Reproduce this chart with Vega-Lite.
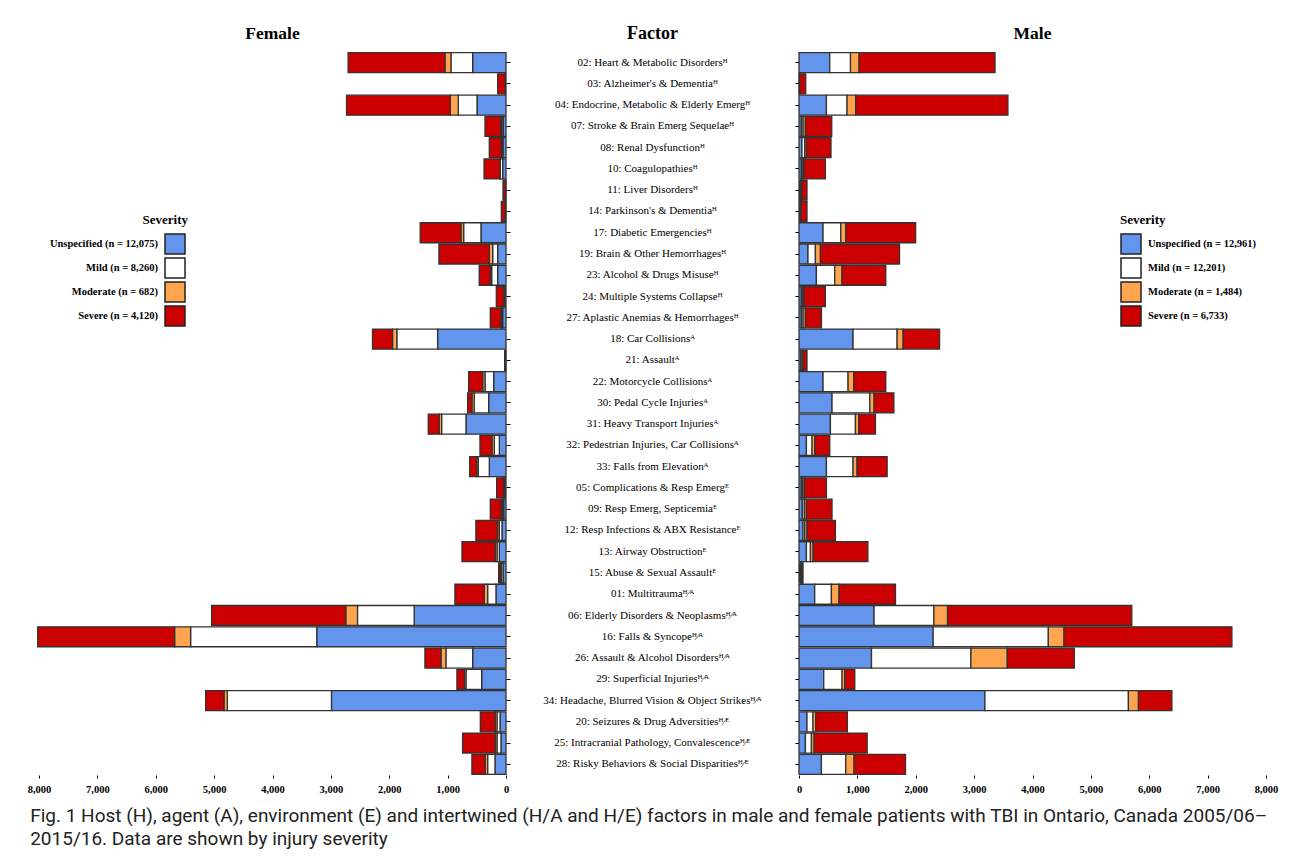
{
"$schema": "https://vega.github.io/schema/vega-lite/v6.json",
"padding": {"left": 27, "top": 25, "right": 5, "bottom": 5},
"background": "white",
"spacing": 0,
"config": {
  "font": "Liberation Serif",
  "view": {"stroke": null},
  "axis": {"labelFont": "Liberation Serif", "labelFontWeight": "bold", "labelFontSize": 10.5, "labelColor": "black", "tickColor": "black", "domain": false, "grid": false, "tickSize": 4},
  "title": {"font": "Liberation Serif", "fontWeight": "bold", "fontSize": 17.5, "color": "black"},
  "legend": {"titleFont": "Liberation Serif", "titleFontWeight": "bold", "titleFontSize": 13, "titleColor": "black", "titlePadding": 6, "labelFont": "Liberation Serif", "labelFontWeight": "bold", "labelFontSize": 10.5, "labelColor": "black", "symbolType": "square", "symbolSize": 400, "symbolStrokeColor": "#222222", "symbolStrokeWidth": 1.5, "symbolOpacity": 1, "rowPadding": -4}
},
"title": {"text": ["Fig. 1  Host (H), agent (A), environment (E) and intertwined (H/A and H/E) factors in male and female patients with TBI in Ontario, Canada 2005/06–", "2015/16. Data are shown by injury severity"], "orient": "bottom", "anchor": "start", "font": "Roboto", "fontWeight": "normal", "fontSize": 19, "lineHeight": 23, "offset": 12, "dx": 3, "color": "#222222"},
"datasets": {
"factors": [
{"code":"02","label":"02: Heart & Metabolic Disordersᴴ"},
{"code":"03","label":"03: Alzheimer's & Dementiaᴴ"},
{"code":"04","label":"04: Endocrine, Metabolic & Elderly Emergᴴ"},
{"code":"07","label":"07: Stroke & Brain Emerg Sequelaeᴴ"},
{"code":"08","label":"08: Renal Dysfunctionᴴ"},
{"code":"10","label":"10: Coagulopathiesᴴ"},
{"code":"11","label":"11: Liver Disordersᴴ"},
{"code":"14","label":"14: Parkinson's & Dementiaᴴ"},
{"code":"17","label":"17: Diabetic Emergenciesᴴ"},
{"code":"19","label":"19: Brain & Other Hemorrhagesᴴ"},
{"code":"23","label":"23: Alcohol & Drugs Misuseᴴ"},
{"code":"24","label":"24: Multiple Systems Collapseᴴ"},
{"code":"27","label":"27: Aplastic Anemias & Hemorrhagesᴴ"},
{"code":"18","label":"18: Car Collisionsᴬ"},
{"code":"21","label":"21: Assaultᴬ"},
{"code":"22","label":"22: Motorcycle Collisionsᴬ"},
{"code":"30","label":"30: Pedal Cycle Injuriesᴬ"},
{"code":"31","label":"31: Heavy Transport Injuriesᴬ"},
{"code":"32","label":"32: Pedestrian Injuries, Car Collisionsᴬ"},
{"code":"33","label":"33: Falls from Elevationᴬ"},
{"code":"05","label":"05: Complications & Resp Emergᴱ"},
{"code":"09","label":"09: Resp Emerg, Septicemiaᴱ"},
{"code":"12","label":"12: Resp Infections & ABX Resistanceᴱ"},
{"code":"13","label":"13: Airway Obstructionᴱ"},
{"code":"15","label":"15: Abuse & Sexual Assaultᴱ"},
{"code":"01","label":"01: Multitraumaᴴ⁄ᴬ"},
{"code":"06","label":"06: Elderly Disorders & Neoplasmsᴴ⁄ᴬ"},
{"code":"16","label":"16: Falls & Syncopeᴴ⁄ᴬ"},
{"code":"26","label":"26: Assault & Alcohol Disordersᴴ⁄ᴬ"},
{"code":"29","label":"29: Superficial Injuriesᴴ⁄ᴬ"},
{"code":"34","label":"34: Headache, Blurred Vision & Object Strikesᴴ⁄ᴬ"},
{"code":"20","label":"20: Seizures & Drug Adversitiesᴴ⁄ᴱ"},
{"code":"25","label":"25: Intracranial Pathology, Convalescenceᴴ⁄ᴱ"},
{"code":"28","label":"28: Risky Behaviors & Social Disparitiesᴴ⁄ᴱ"}
],
"bars": [
{"sex":"F","code":"02","sev":"Unspecified","o":1,"n":571},{"sex":"F","code":"02","sev":"Mild","o":2,"n":372},{"sex":"F","code":"02","sev":"Moderate","o":3,"n":103},{"sex":"F","code":"02","sev":"Severe","o":4,"n":1659},
{"sex":"F","code":"03","sev":"Unspecified","o":1,"n":10},{"sex":"F","code":"03","sev":"Mild","o":2,"n":5},{"sex":"F","code":"03","sev":"Moderate","o":3,"n":2},{"sex":"F","code":"03","sev":"Severe","o":4,"n":125},
{"sex":"F","code":"04","sev":"Unspecified","o":1,"n":497},{"sex":"F","code":"04","sev":"Mild","o":2,"n":321},{"sex":"F","code":"04","sev":"Moderate","o":3,"n":137},{"sex":"F","code":"04","sev":"Severe","o":4,"n":1777},
{"sex":"F","code":"07","sev":"Unspecified","o":1,"n":45},{"sex":"F","code":"07","sev":"Mild","o":2,"n":25},{"sex":"F","code":"07","sev":"Moderate","o":3,"n":20},{"sex":"F","code":"07","sev":"Severe","o":4,"n":270},
{"sex":"F","code":"08","sev":"Unspecified","o":1,"n":50},{"sex":"F","code":"08","sev":"Mild","o":2,"n":15},{"sex":"F","code":"08","sev":"Moderate","o":3,"n":15},{"sex":"F","code":"08","sev":"Severe","o":4,"n":206},
{"sex":"F","code":"10","sev":"Unspecified","o":1,"n":57},{"sex":"F","code":"10","sev":"Mild","o":2,"n":40},{"sex":"F","code":"10","sev":"Moderate","o":3,"n":5},{"sex":"F","code":"10","sev":"Severe","o":4,"n":274},
{"sex":"F","code":"11","sev":"Unspecified","o":1,"n":5},{"sex":"F","code":"11","sev":"Mild","o":2,"n":3},{"sex":"F","code":"11","sev":"Moderate","o":3,"n":3},{"sex":"F","code":"11","sev":"Severe","o":4,"n":40},
{"sex":"F","code":"14","sev":"Unspecified","o":1,"n":5},{"sex":"F","code":"14","sev":"Mild","o":2,"n":5},{"sex":"F","code":"14","sev":"Moderate","o":3,"n":5},{"sex":"F","code":"14","sev":"Severe","o":4,"n":65},
{"sex":"F","code":"17","sev":"Unspecified","o":1,"n":429},{"sex":"F","code":"17","sev":"Mild","o":2,"n":297},{"sex":"F","code":"17","sev":"Moderate","o":3,"n":46},{"sex":"F","code":"17","sev":"Severe","o":4,"n":698},
{"sex":"F","code":"19","sev":"Unspecified","o":1,"n":143},{"sex":"F","code":"19","sev":"Mild","o":2,"n":86},{"sex":"F","code":"19","sev":"Moderate","o":3,"n":57},{"sex":"F","code":"19","sev":"Severe","o":4,"n":863},
{"sex":"F","code":"23","sev":"Unspecified","o":1,"n":143},{"sex":"F","code":"23","sev":"Mild","o":2,"n":103},{"sex":"F","code":"23","sev":"Moderate","o":3,"n":24},{"sex":"F","code":"23","sev":"Severe","o":4,"n":189},
{"sex":"F","code":"24","sev":"Unspecified","o":1,"n":15},{"sex":"F","code":"24","sev":"Mild","o":2,"n":15},{"sex":"F","code":"24","sev":"Moderate","o":3,"n":10},{"sex":"F","code":"24","sev":"Severe","o":4,"n":126},
{"sex":"F","code":"27","sev":"Unspecified","o":1,"n":57},{"sex":"F","code":"27","sev":"Mild","o":2,"n":15},{"sex":"F","code":"27","sev":"Moderate","o":3,"n":14},{"sex":"F","code":"27","sev":"Severe","o":4,"n":183},
{"sex":"F","code":"18","sev":"Unspecified","o":1,"n":1172},{"sex":"F","code":"18","sev":"Mild","o":2,"n":698},{"sex":"F","code":"18","sev":"Moderate","o":3,"n":74},{"sex":"F","code":"18","sev":"Severe","o":4,"n":343},
{"sex":"F","code":"21","sev":"Unspecified","o":1,"n":5},{"sex":"F","code":"21","sev":"Mild","o":2,"n":5},{"sex":"F","code":"21","sev":"Moderate","o":3,"n":3},{"sex":"F","code":"21","sev":"Severe","o":4,"n":10},
{"sex":"F","code":"22","sev":"Unspecified","o":1,"n":211},{"sex":"F","code":"22","sev":"Mild","o":2,"n":149},{"sex":"F","code":"22","sev":"Moderate","o":3,"n":40},{"sex":"F","code":"22","sev":"Severe","o":4,"n":240},
{"sex":"F","code":"30","sev":"Unspecified","o":1,"n":297},{"sex":"F","code":"30","sev":"Mild","o":2,"n":247},{"sex":"F","code":"30","sev":"Moderate","o":3,"n":40},{"sex":"F","code":"30","sev":"Severe","o":4,"n":74},
{"sex":"F","code":"31","sev":"Unspecified","o":1,"n":686},{"sex":"F","code":"31","sev":"Mild","o":2,"n":417},{"sex":"F","code":"31","sev":"Moderate","o":3,"n":40},{"sex":"F","code":"31","sev":"Severe","o":4,"n":189},
{"sex":"F","code":"32","sev":"Unspecified","o":1,"n":114},{"sex":"F","code":"32","sev":"Mild","o":2,"n":86},{"sex":"F","code":"32","sev":"Moderate","o":3,"n":40},{"sex":"F","code":"32","sev":"Severe","o":4,"n":206},
{"sex":"F","code":"33","sev":"Unspecified","o":1,"n":286},{"sex":"F","code":"33","sev":"Mild","o":2,"n":189},{"sex":"F","code":"33","sev":"Moderate","o":3,"n":27},{"sex":"F","code":"33","sev":"Severe","o":4,"n":120},
{"sex":"F","code":"05","sev":"Unspecified","o":1,"n":15},{"sex":"F","code":"05","sev":"Mild","o":2,"n":15},{"sex":"F","code":"05","sev":"Moderate","o":3,"n":10},{"sex":"F","code":"05","sev":"Severe","o":4,"n":120},
{"sex":"F","code":"09","sev":"Unspecified","o":1,"n":40},{"sex":"F","code":"09","sev":"Mild","o":2,"n":20},{"sex":"F","code":"09","sev":"Moderate","o":3,"n":20},{"sex":"F","code":"09","sev":"Severe","o":4,"n":189},
{"sex":"F","code":"12","sev":"Unspecified","o":1,"n":69},{"sex":"F","code":"12","sev":"Mild","o":2,"n":46},{"sex":"F","code":"12","sev":"Moderate","o":3,"n":29},{"sex":"F","code":"12","sev":"Severe","o":4,"n":372},
{"sex":"F","code":"13","sev":"Unspecified","o":1,"n":114},{"sex":"F","code":"13","sev":"Mild","o":2,"n":40},{"sex":"F","code":"13","sev":"Moderate","o":3,"n":29},{"sex":"F","code":"13","sev":"Severe","o":4,"n":571},
{"sex":"F","code":"15","sev":"Unspecified","o":1,"n":46},{"sex":"F","code":"15","sev":"Mild","o":2,"n":30},{"sex":"F","code":"15","sev":"Moderate","o":3,"n":20},{"sex":"F","code":"15","sev":"Severe","o":4,"n":30},
{"sex":"F","code":"01","sev":"Unspecified","o":1,"n":172},{"sex":"F","code":"01","sev":"Mild","o":2,"n":143},{"sex":"F","code":"01","sev":"Moderate","o":3,"n":57},{"sex":"F","code":"01","sev":"Severe","o":4,"n":503},
{"sex":"F","code":"06","sev":"Unspecified","o":1,"n":1573},{"sex":"F","code":"06","sev":"Mild","o":2,"n":971},{"sex":"F","code":"06","sev":"Moderate","o":3,"n":201},{"sex":"F","code":"06","sev":"Severe","o":4,"n":2298},
{"sex":"F","code":"16","sev":"Unspecified","o":1,"n":3242},{"sex":"F","code":"16","sev":"Mild","o":2,"n":2161},{"sex":"F","code":"16","sev":"Moderate","o":3,"n":274},{"sex":"F","code":"16","sev":"Severe","o":4,"n":2345},
{"sex":"F","code":"26","sev":"Unspecified","o":1,"n":571},{"sex":"F","code":"26","sev":"Mild","o":2,"n":458},{"sex":"F","code":"26","sev":"Moderate","o":3,"n":86},{"sex":"F","code":"26","sev":"Severe","o":4,"n":274},
{"sex":"F","code":"29","sev":"Unspecified","o":1,"n":417},{"sex":"F","code":"29","sev":"Mild","o":2,"n":269},{"sex":"F","code":"29","sev":"Moderate","o":3,"n":29},{"sex":"F","code":"29","sev":"Severe","o":4,"n":126},
{"sex":"F","code":"34","sev":"Unspecified","o":1,"n":2990},{"sex":"F","code":"34","sev":"Mild","o":2,"n":1784},{"sex":"F","code":"34","sev":"Moderate","o":3,"n":57},{"sex":"F","code":"34","sev":"Severe","o":4,"n":314},
{"sex":"F","code":"20","sev":"Unspecified","o":1,"n":103},{"sex":"F","code":"20","sev":"Mild","o":2,"n":51},{"sex":"F","code":"20","sev":"Moderate","o":3,"n":29},{"sex":"F","code":"20","sev":"Severe","o":4,"n":257},
{"sex":"F","code":"25","sev":"Unspecified","o":1,"n":86},{"sex":"F","code":"25","sev":"Mild","o":2,"n":69},{"sex":"F","code":"25","sev":"Moderate","o":3,"n":29},{"sex":"F","code":"25","sev":"Severe","o":4,"n":559},
{"sex":"F","code":"28","sev":"Unspecified","o":1,"n":189},{"sex":"F","code":"28","sev":"Mild","o":2,"n":126},{"sex":"F","code":"28","sev":"Moderate","o":3,"n":40},{"sex":"F","code":"28","sev":"Severe","o":4,"n":229},
{"sex":"M","code":"02","sev":"Unspecified","o":1,"n":527},{"sex":"M","code":"02","sev":"Mild","o":2,"n":355},{"sex":"M","code":"02","sev":"Moderate","o":3,"n":148},{"sex":"M","code":"02","sev":"Severe","o":4,"n":2328},
{"sex":"M","code":"03","sev":"Unspecified","o":1,"n":5},{"sex":"M","code":"03","sev":"Mild","o":2,"n":5},{"sex":"M","code":"03","sev":"Moderate","o":3,"n":5},{"sex":"M","code":"03","sev":"Severe","o":4,"n":100},
{"sex":"M","code":"04","sev":"Unspecified","o":1,"n":470},{"sex":"M","code":"04","sev":"Mild","o":2,"n":353},{"sex":"M","code":"04","sev":"Moderate","o":3,"n":149},{"sex":"M","code":"04","sev":"Severe","o":4,"n":2607},
{"sex":"M","code":"07","sev":"Unspecified","o":1,"n":40},{"sex":"M","code":"07","sev":"Mild","o":2,"n":30},{"sex":"M","code":"07","sev":"Moderate","o":3,"n":40},{"sex":"M","code":"07","sev":"Severe","o":4,"n":451},
{"sex":"M","code":"08","sev":"Unspecified","o":1,"n":51},{"sex":"M","code":"08","sev":"Mild","o":2,"n":46},{"sex":"M","code":"08","sev":"Moderate","o":3,"n":29},{"sex":"M","code":"08","sev":"Severe","o":4,"n":422},
{"sex":"M","code":"10","sev":"Unspecified","o":1,"n":40},{"sex":"M","code":"10","sev":"Mild","o":2,"n":26},{"sex":"M","code":"10","sev":"Moderate","o":3,"n":20},{"sex":"M","code":"10","sev":"Severe","o":4,"n":366},
{"sex":"M","code":"11","sev":"Unspecified","o":1,"n":20},{"sex":"M","code":"11","sev":"Mild","o":2,"n":20},{"sex":"M","code":"11","sev":"Moderate","o":3,"n":11},{"sex":"M","code":"11","sev":"Severe","o":4,"n":86},
{"sex":"M","code":"14","sev":"Unspecified","o":1,"n":15},{"sex":"M","code":"14","sev":"Mild","o":2,"n":10},{"sex":"M","code":"14","sev":"Moderate","o":3,"n":9},{"sex":"M","code":"14","sev":"Severe","o":4,"n":103},
{"sex":"M","code":"17","sev":"Unspecified","o":1,"n":412},{"sex":"M","code":"17","sev":"Mild","o":2,"n":304},{"sex":"M","code":"17","sev":"Moderate","o":3,"n":86},{"sex":"M","code":"17","sev":"Severe","o":4,"n":1196},
{"sex":"M","code":"19","sev":"Unspecified","o":1,"n":154},{"sex":"M","code":"19","sev":"Mild","o":2,"n":127},{"sex":"M","code":"19","sev":"Moderate","o":3,"n":86},{"sex":"M","code":"19","sev":"Severe","o":4,"n":1355},
{"sex":"M","code":"23","sev":"Unspecified","o":1,"n":298},{"sex":"M","code":"23","sev":"Mild","o":2,"n":314},{"sex":"M","code":"23","sev":"Moderate","o":3,"n":125},{"sex":"M","code":"23","sev":"Severe","o":4,"n":750},
{"sex":"M","code":"24","sev":"Unspecified","o":1,"n":40},{"sex":"M","code":"24","sev":"Mild","o":2,"n":25},{"sex":"M","code":"24","sev":"Moderate","o":3,"n":20},{"sex":"M","code":"24","sev":"Severe","o":4,"n":366},
{"sex":"M","code":"27","sev":"Unspecified","o":1,"n":40},{"sex":"M","code":"27","sev":"Mild","o":2,"n":30},{"sex":"M","code":"27","sev":"Moderate","o":3,"n":40},{"sex":"M","code":"27","sev":"Severe","o":4,"n":274},
{"sex":"M","code":"18","sev":"Unspecified","o":1,"n":926},{"sex":"M","code":"18","sev":"Mild","o":2,"n":755},{"sex":"M","code":"18","sev":"Moderate","o":3,"n":103},{"sex":"M","code":"18","sev":"Severe","o":4,"n":624},
{"sex":"M","code":"21","sev":"Unspecified","o":1,"n":30},{"sex":"M","code":"21","sev":"Mild","o":2,"n":25},{"sex":"M","code":"21","sev":"Moderate","o":3,"n":13},{"sex":"M","code":"21","sev":"Severe","o":4,"n":69},
{"sex":"M","code":"22","sev":"Unspecified","o":1,"n":412},{"sex":"M","code":"22","sev":"Mild","o":2,"n":429},{"sex":"M","code":"22","sev":"Moderate","o":3,"n":97},{"sex":"M","code":"22","sev":"Severe","o":4,"n":549},
{"sex":"M","code":"30","sev":"Unspecified","o":1,"n":566},{"sex":"M","code":"30","sev":"Mild","o":2,"n":647},{"sex":"M","code":"30","sev":"Moderate","o":3,"n":74},{"sex":"M","code":"30","sev":"Severe","o":4,"n":338},
{"sex":"M","code":"31","sev":"Unspecified","o":1,"n":538},{"sex":"M","code":"31","sev":"Mild","o":2,"n":429},{"sex":"M","code":"31","sev":"Moderate","o":3,"n":57},{"sex":"M","code":"31","sev":"Severe","o":4,"n":286},
{"sex":"M","code":"32","sev":"Unspecified","o":1,"n":127},{"sex":"M","code":"32","sev":"Mild","o":2,"n":97},{"sex":"M","code":"32","sev":"Moderate","o":3,"n":46},{"sex":"M","code":"32","sev":"Severe","o":4,"n":257},
{"sex":"M","code":"33","sev":"Unspecified","o":1,"n":470},{"sex":"M","code":"33","sev":"Mild","o":2,"n":456},{"sex":"M","code":"33","sev":"Moderate","o":3,"n":69},{"sex":"M","code":"33","sev":"Severe","o":4,"n":515},
{"sex":"M","code":"05","sev":"Unspecified","o":1,"n":40},{"sex":"M","code":"05","sev":"Mild","o":2,"n":25},{"sex":"M","code":"05","sev":"Moderate","o":3,"n":28},{"sex":"M","code":"05","sev":"Severe","o":4,"n":377},
{"sex":"M","code":"09","sev":"Unspecified","o":1,"n":57},{"sex":"M","code":"09","sev":"Mild","o":2,"n":35},{"sex":"M","code":"09","sev":"Moderate","o":3,"n":34},{"sex":"M","code":"09","sev":"Severe","o":4,"n":440},
{"sex":"M","code":"12","sev":"Unspecified","o":1,"n":69},{"sex":"M","code":"12","sev":"Mild","o":2,"n":29},{"sex":"M","code":"12","sev":"Moderate","o":3,"n":40},{"sex":"M","code":"12","sev":"Severe","o":4,"n":486},
{"sex":"M","code":"13","sev":"Unspecified","o":1,"n":127},{"sex":"M","code":"13","sev":"Mild","o":2,"n":69},{"sex":"M","code":"13","sev":"Moderate","o":3,"n":46},{"sex":"M","code":"13","sev":"Severe","o":4,"n":938},
{"sex":"M","code":"15","sev":"Unspecified","o":1,"n":20},{"sex":"M","code":"15","sev":"Mild","o":2,"n":20},{"sex":"M","code":"15","sev":"Moderate","o":3,"n":10},{"sex":"M","code":"15","sev":"Severe","o":4,"n":19},
{"sex":"M","code":"01","sev":"Unspecified","o":1,"n":269},{"sex":"M","code":"01","sev":"Mild","o":2,"n":286},{"sex":"M","code":"01","sev":"Moderate","o":3,"n":131},{"sex":"M","code":"01","sev":"Severe","o":4,"n":967},
{"sex":"M","code":"06","sev":"Unspecified","o":1,"n":1286},{"sex":"M","code":"06","sev":"Mild","o":2,"n":1024},{"sex":"M","code":"06","sev":"Moderate","o":3,"n":235},{"sex":"M","code":"06","sev":"Severe","o":4,"n":3156},
{"sex":"M","code":"16","sev":"Unspecified","o":1,"n":2298},{"sex":"M","code":"16","sev":"Mild","o":2,"n":1973},{"sex":"M","code":"16","sev":"Moderate","o":3,"n":269},{"sex":"M","code":"16","sev":"Severe","o":4,"n":2876},
{"sex":"M","code":"26","sev":"Unspecified","o":1,"n":1242},{"sex":"M","code":"26","sev":"Mild","o":2,"n":1703},{"sex":"M","code":"26","sev":"Moderate","o":3,"n":623},{"sex":"M","code":"26","sev":"Severe","o":4,"n":1149},
{"sex":"M","code":"29","sev":"Unspecified","o":1,"n":424},{"sex":"M","code":"29","sev":"Mild","o":2,"n":314},{"sex":"M","code":"29","sev":"Moderate","o":3,"n":46},{"sex":"M","code":"29","sev":"Severe","o":4,"n":172},
{"sex":"M","code":"34","sev":"Unspecified","o":1,"n":3185},{"sex":"M","code":"34","sev":"Mild","o":2,"n":2458},{"sex":"M","code":"34","sev":"Moderate","o":3,"n":172},{"sex":"M","code":"34","sev":"Severe","o":4,"n":573},
{"sex":"M","code":"20","sev":"Unspecified","o":1,"n":137},{"sex":"M","code":"20","sev":"Mild","o":2,"n":103},{"sex":"M","code":"20","sev":"Moderate","o":3,"n":46},{"sex":"M","code":"20","sev":"Severe","o":4,"n":543},
{"sex":"M","code":"25","sev":"Unspecified","o":1,"n":110},{"sex":"M","code":"25","sev":"Mild","o":2,"n":103},{"sex":"M","code":"25","sev":"Moderate","o":3,"n":46},{"sex":"M","code":"25","sev":"Severe","o":4,"n":909},
{"sex":"M","code":"28","sev":"Unspecified","o":1,"n":384},{"sex":"M","code":"28","sev":"Mild","o":2,"n":417},{"sex":"M","code":"28","sev":"Moderate","o":3,"n":143},{"sex":"M","code":"28","sev":"Severe","o":4,"n":881}
]
},
"hconcat": [
{
  "width": 467, "height": 723,
  "title": {"text": "Female", "offset": 9},
  "data": {"name": "bars"},
  "transform": [{"filter": "datum.sex === 'F'"}],
  "mark": {"type": "bar", "stroke": "#333333", "strokeWidth": 1.3},
  "encoding": {
    "y": {"field": "code", "type": "nominal", "scale": {"domain": ["02","03","04","07","08","10","11","14","17","19","23","24","27","18","21","22","30","31","32","33","05","09","12","13","15","01","06","16","26","29","34","20","25","28"], "paddingInner": 0.06, "paddingOuter": 0.03}, "axis": {"orient": "right", "labels": false, "title": null}},
    "x": {"field": "n", "type": "quantitative", "stack": "zero", "scale": {"domain": [0, 8000], "reverse": true, "nice": false}, "axis": {"title": null, "values": [0,1000,2000,3000,4000,5000,6000,7000,8000], "format": ",.0f", "labelFlush": false, "tickSize": 3, "labelPadding": 6}},
    "color": {"field": "sev", "type": "nominal", "scale": {"domain": ["Unspecified","Mild","Moderate","Severe"], "range": ["#6495ed","#ffffff","#ffa54f","#cc0000"]},
      "legend": {"orient": "none", "legendX": 104, "legendY": 162, "title": "Severity", "titleAnchor": "end", "labelAlign": "right", "labelOffset": -28,
        "labelExpr": "datum.label === 'Unspecified' ? 'Unspecified (n = 12,075)' : datum.label === 'Mild' ? 'Mild (n = 8,260)' : datum.label === 'Moderate' ? 'Moderate (n = 682)' : 'Severe (n = 4,120)'"}},
    "order": {"field": "o", "type": "quantitative"}
  }
},
{
  "width": 283, "height": 723,
  "title": {"text": "Factor", "offset": 9, "fontSize": 18},
  "data": {"name": "factors"},
  "mark": {"type": "text", "font": "Liberation Serif", "fontSize": 11, "color": "black"},
  "encoding": {
    "y": {"field": "code", "type": "nominal", "scale": {"domain": ["02","03","04","07","08","10","11","14","17","19","23","24","27","18","21","22","30","31","32","33","05","09","12","13","15","01","06","16","26","29","34","20","25","28"], "paddingInner": 0.06, "paddingOuter": 0.03}, "axis": null},
    "text": {"field": "label", "type": "nominal"}
  }
},
{
  "width": 467, "height": 723,
  "title": {"text": "Male", "offset": 9},
  "data": {"name": "bars"},
  "transform": [{"filter": "datum.sex === 'M'"}],
  "mark": {"type": "bar", "stroke": "#333333", "strokeWidth": 1.3},
  "encoding": {
    "y": {"field": "code", "type": "nominal", "scale": {"domain": ["02","03","04","07","08","10","11","14","17","19","23","24","27","18","21","22","30","31","32","33","05","09","12","13","15","01","06","16","26","29","34","20","25","28"], "paddingInner": 0.06, "paddingOuter": 0.03}, "axis": {"orient": "left", "labels": false, "title": null}},
    "x": {"field": "n", "type": "quantitative", "stack": "zero", "scale": {"domain": [0, 8000], "nice": false}, "axis": {"title": null, "values": [0,1000,2000,3000,4000,5000,6000,7000,8000], "format": ",.0f", "labelFlush": false, "tickSize": 3, "labelPadding": 6}},
    "color": {"field": "sev", "type": "nominal", "scale": {"domain": ["Unspecified","Mild","Moderate","Severe"], "range": ["#6495ed","#ffffff","#ffa54f","#cc0000"]},
      "legend": {"orient": "none", "legendX": 321, "legendY": 162, "title": "Severity", "labelOffset": 6,
        "labelExpr": "datum.label === 'Unspecified' ? 'Unspecified (n = 12,961)' : datum.label === 'Mild' ? 'Mild (n = 12,201)' : datum.label === 'Moderate' ? 'Moderate (n = 1,484)' : 'Severe (n = 6,733)'"}},
    "order": {"field": "o", "type": "quantitative"}
  }
}
],
"resolve": {"scale": {"color": "independent"}, "legend": {"color": "independent"}}
}
